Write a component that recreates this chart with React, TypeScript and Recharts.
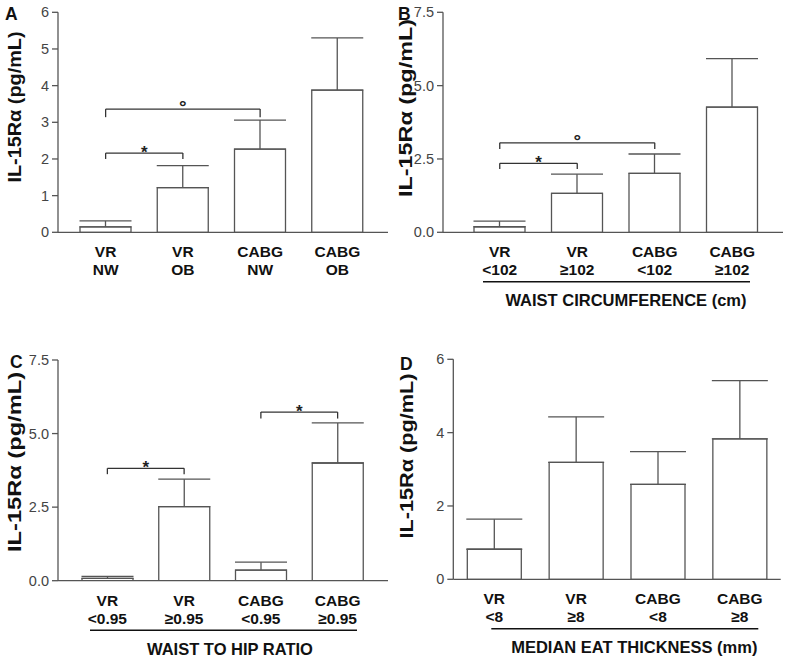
import React from 'react';
import { BarChart, Bar, XAxis, YAxis, ErrorBar, ReferenceLine } from 'recharts';

const FONT = '"Liberation Sans", Arial, sans-serif';
const AXIS = '#555';
const INK = '#111';

// shared groups
const groups = ['VR', 'VR', 'CABG', 'CABG'];

// A – body weight
const subA = ['NW', 'OB', 'NW', 'OB'];
const meanA = [0.15, 1.22, 2.27, 3.88];
const semA = [0.16, 0.6, 0.79, 1.42];
const ticksA = [0, 1, 2, 3, 4, 5, 6];
const bracketsA = [
  { from: 0, to: 1, y: 2.16, low: 2.0, mark: '*' },
  { from: 0, to: 2, y: 3.36, low: 3.14, mark: '°' },
];

// B – waist circumference
const subB = ['<102', '≥102', '<102', '≥102'];
const meanB = [0.19, 1.33, 2.01, 4.27];
const semB = [0.19, 0.65, 0.66, 1.65];
const ticksB = [0, 2.5, 5, 7.5];
const bracketsB = [
  { from: 0, to: 1, y: 2.35, low: 2.16, mark: '*' },
  { from: 0, to: 2, y: 3.05, low: 2.84, mark: '°' },
];

// C – waist to hip ratio
const subC = ['<0.95', '≥0.95', '<0.95', '≥0.95'];
const meanC = [0.08, 2.52, 0.36, 4.0];
const semC = [0.07, 0.93, 0.27, 1.36];
const ticksC = [0, 2.5, 5, 7.5];
const bracketsC = [
  { from: 0, to: 1, y: 3.82, low: 3.62, mark: '*' },
  { from: 2, to: 3, y: 5.73, low: 5.51, mark: '*' },
];

// D – median EAT thickness
const subD = ['<8', '≥8', '<8', '≥8'];
const meanD = [0.82, 3.19, 2.59, 3.83];
const semD = [0.82, 1.24, 0.89, 1.59];
const ticksD = [0, 2, 4, 6];

const yLabel = 'IL-15Rα (pg/mL)';
const yLabelWide = 'IL-15Rα  (pg/mL)';

type Bracket = { from: number; to: number; y: number; low: number; mark: string };

const makeRows = (sub: string[], mean: number[], sem: number[]) =>
  groups.map((g, i) => ({ cat: `${g}|${sub[i]}`, mean: mean[i], err: [0, sem[i]] }));

const CatTick = (props: any) => {
  const { x, y, payload } = props;
  const [top, bottom] = String(payload.value).split('|');
  return (
    <text x={x} y={y} textAnchor="middle" fontSize={15.5} fontWeight="bold" fill={INK} fontFamily={FONT}>
      <tspan x={x} dy={25}>{top}</tspan>
      <tspan x={x} dy={18}>{bottom}</tspan>
    </text>
  );
};

interface PanelProps {
  left: number;
  top: number;
  height: number;
  rows: any[];
  ticks: number[];
  decimals: number;
  brackets: Bracket[];
  yWidth: number;
  marginTop: number;
  marginRight: number;
  xHeight: number;
  padding: { left: number; right: number };
  barSize: number;
  capWidth: number;
  letter: string;
  letterPos: [number, number];
  label: string;
  labelPos: [number, number];
  labelLength: number;
  title?: string;
  titleX?: number;
  underline?: [number, number];
}

const Panel: React.FC<PanelProps> = (p) => {
  const cats = p.rows.map((r) => r.cat);
  const yMax = p.ticks[p.ticks.length - 1];

  const yLabelContent = () => (
    <g fontFamily={FONT} fontWeight="bold" fill={INK}>
      <text x={p.letterPos[0]} y={p.letterPos[1]} fontSize={17.5}>{p.letter}</text>
      <text
        x={p.labelPos[0]}
        y={p.labelPos[1]}
        fontSize={19}
        textAnchor="middle"
        textLength={p.labelLength}
        lengthAdjust="spacingAndGlyphs"
        transform={`rotate(-90, ${p.labelPos[0]}, ${p.labelPos[1]})`}
      >
        {p.label}
      </text>
    </g>
  );

  const xTitleContent = (props: any) => {
    if (!p.title || !p.underline) return null;
    const vb = props.viewBox;
    return (
      <g>
        <line
          x1={vb.x + p.underline[0]}
          x2={vb.x + p.underline[1]}
          y1={vb.y + 49.5}
          y2={vb.y + 49.5}
          stroke={INK}
          strokeWidth={1.5}
        />
        <text x={vb.x + (p.titleX ?? 0)} y={vb.y + 74} textAnchor="middle" fontSize={16.5} fontWeight="bold" fill={INK} fontFamily={FONT}>
          {p.title}
        </text>
      </g>
    );
  };

  const markContent = (mark: string) => (props: any) => {
    const vb = props.viewBox;
    const star = mark === '*';
    return (
      <text
        x={vb.x + vb.width / 2}
        y={vb.y + (star ? 5 : 4)}
        textAnchor="middle"
        fontSize={star ? 17 : 19}
        fontWeight="bold"
        fill="#222"
        fontFamily={FONT}
      >
        {mark}
      </text>
    );
  };

  return (
    <div style={{ position: 'absolute', left: p.left, top: p.top }}>
      <BarChart
        width={395}
        height={p.height}
        data={p.rows}
        margin={{ top: p.marginTop, right: p.marginRight, left: 0, bottom: 0 }}
      >
        <XAxis
          dataKey="cat"
          height={p.xHeight}
          padding={p.padding}
          tick={<CatTick />}
          tickLine={false}
          tickSize={0}
          tickMargin={0}
          interval={0}
          axisLine={{ stroke: AXIS, strokeWidth: 1.3 }}
          label={{ content: xTitleContent }}
        />
        <YAxis
          width={p.yWidth}
          domain={[0, yMax]}
          ticks={p.ticks}
          interval={0}
          allowDataOverflow
          tickFormatter={(v: number) => v.toFixed(p.decimals)}
          tick={{ fill: '#444', fontSize: 14.5, fontFamily: FONT }}
          tickSize={6}
          tickMargin={3}
          tickLine={{ stroke: AXIS, strokeWidth: 1.3 }}
          axisLine={{ stroke: AXIS, strokeWidth: 1.3 }}
          label={{ content: yLabelContent }}
        />
        <Bar
          dataKey="mean"
          fill="#fff"
          stroke={AXIS}
          strokeWidth={1.3}
          barSize={p.barSize}
          isAnimationActive={false}
        >
          <ErrorBar dataKey="err" direction="y" width={p.capWidth} stroke={AXIS} strokeWidth={1.3} />
        </Bar>
        {p.brackets.map((b, i) => (
          <ReferenceLine
            key={`h${i}`}
            segment={[{ x: cats[b.from], y: b.y }, { x: cats[b.to], y: b.y }]}
            stroke="#333"
            strokeWidth={1.3}
            label={{ content: markContent(b.mark) }}
          />
        ))}
        {p.brackets.map((b, i) => (
          <ReferenceLine
            key={`l${i}`}
            segment={[{ x: cats[b.from], y: b.y }, { x: cats[b.from], y: b.low }]}
            stroke="#333"
            strokeWidth={1.3}
          />
        ))}
        {p.brackets.map((b, i) => (
          <ReferenceLine
            key={`r${i}`}
            segment={[{ x: cats[b.to], y: b.y }, { x: cats[b.to], y: b.low }]}
            stroke="#333"
            strokeWidth={1.3}
          />
        ))}
      </BarChart>
    </div>
  );
};

export default function App() {
  return (
    <div style={{ position: 'absolute', left: 0, top: 0, width: 790, height: 663, background: '#fff' }}>
      <Panel
        left={0}
        top={0}
        height={330}
        rows={makeRows(subA, meanA, semA)}
        ticks={ticksA}
        decimals={0}
        brackets={bracketsA}
        yWidth={58}
        marginTop={12.3}
        marginRight={7}
        xHeight={97.7}
        padding={{ left: 9, right: 12 }}
        barSize={51}
        capWidth={26}
        letter="A"
        letterPos={[5, 20]}
        label={yLabel}
        labelPos={[21, 107]}
        labelLength={151}
      />
      <Panel
        left={395}
        top={0}
        height={330}
        rows={makeRows(subB, meanB, semB)}
        ticks={ticksB}
        decimals={1}
        brackets={bracketsB}
        yWidth={48}
        marginTop={12.3}
        marginRight={7}
        xHeight={97.7}
        padding={{ left: 18, right: 12 }}
        barSize={51}
        capWidth={26}
        letter="B"
        letterPos={[3, 20]}
        label={yLabelWide}
        labelPos={[17, 108]}
        labelLength={178}
        title="WAIST CIRCUMFERENCE (cm)"
        titleX={183}
        underline={[40, 307]}
      />
      <Panel
        left={0}
        top={330}
        height={333}
        rows={makeRows(subC, meanC, semC)}
        ticks={ticksC}
        decimals={1}
        brackets={bracketsC}
        yWidth={58}
        marginTop={30}
        marginRight={7}
        xHeight={82.3}
        padding={{ left: 11, right: 12 }}
        barSize={51}
        capWidth={26}
        letter="C"
        letterPos={[10, 38]}
        label={yLabelWide}
        labelPos={[21, 132]}
        labelLength={180}
        title="WAIST TO HIP RATIO"
        titleX={172}
        underline={[32, 299]}
      />
      <Panel
        left={395}
        top={330}
        height={333}
        rows={makeRows(subD, meanD, semD)}
        ticks={ticksD}
        decimals={0}
        brackets={[]}
        yWidth={58.3}
        marginTop={29.3}
        marginRight={9.3}
        xHeight={83.7}
        padding={{ left: 0, right: 0 }}
        barSize={54}
        capWidth={28}
        letter="D"
        letterPos={[5, 40]}
        label={yLabelWide}
        labelPos={[18, 126]}
        labelLength={165}
        title="MEDIAN EAT THICKNESS (mm)"
        titleX={181}
        underline={[38, 305]}
      />
    </div>
  );
}
